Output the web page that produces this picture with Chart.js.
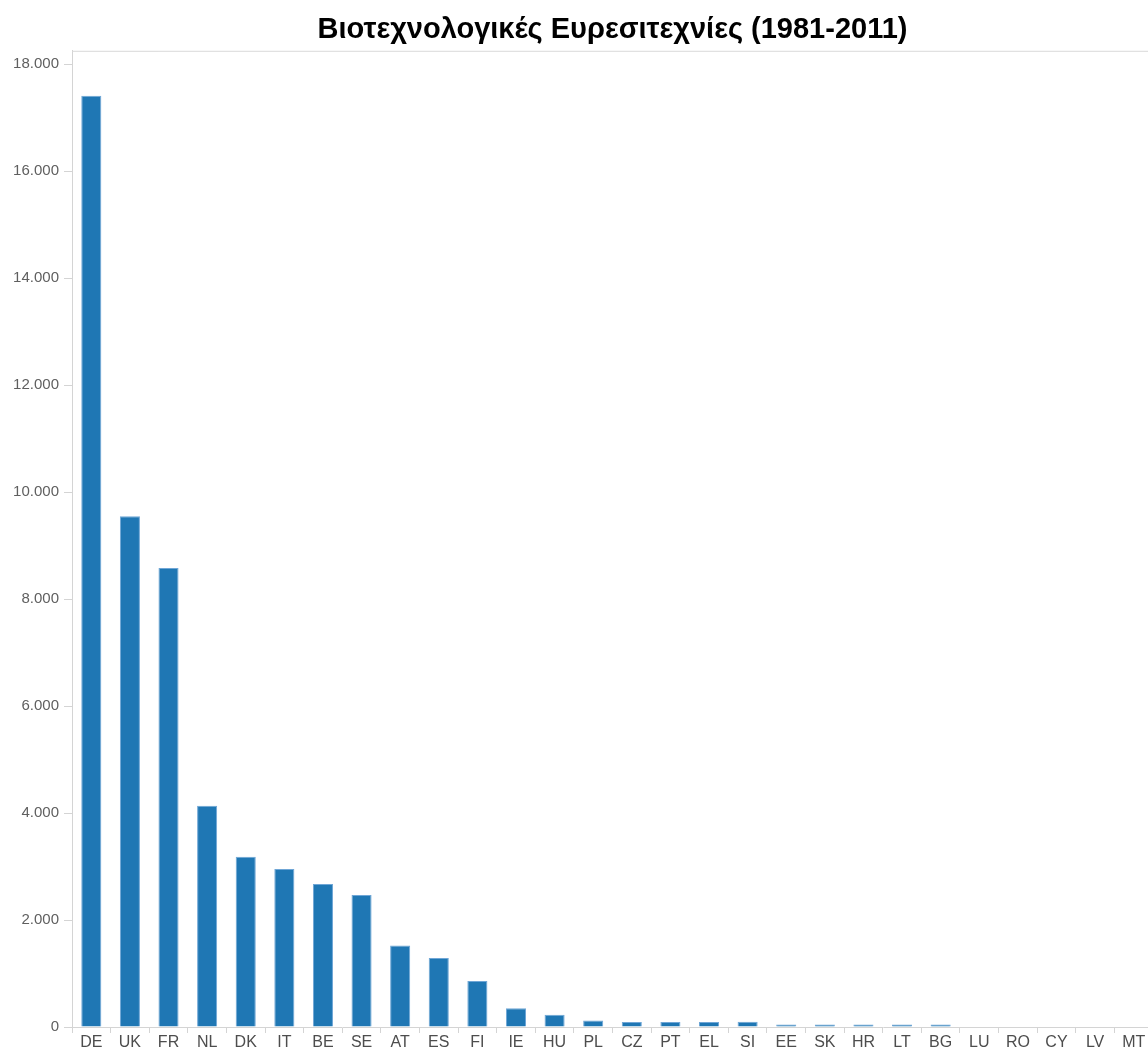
<!DOCTYPE html>
<html>
<head>
<meta charset="utf-8">
<script src="https://cdn.jsdelivr.net/npm/chart.js@4/dist/chart.umd.min.js"></script>
<style>
  html, body { margin: 0; padding: 0; background: #fff; overflow: hidden; }
  #wrap { position: absolute; left: 0; top: 0; width: 1160px; height: 1050px; }
</style>
</head>
<body>
<div id="wrap"><canvas id="patentChart"></canvas></div>
<script>
// Βιοτεχνολογικές ευρεσιτεχνίες ανά χώρα
const countries = ['DE', 'UK', 'FR', 'NL', 'DK', 'IT', 'BE', 'SE', 'AT', 'ES', 'FI', 'IE', 'HU', 'PL',
  'CZ', 'PT', 'EL', 'SI', 'EE', 'SK', 'HR', 'LT', 'BG', 'LU', 'RO', 'CY', 'LV', 'MT'];
const patents = [17410, 9550, 8580, 4135, 3185, 2955, 2675, 2470, 1525, 1290, 860, 350, 230, 120,
  95, 95, 95, 100, 45, 45, 45, 45, 45, 0, 0, 0, 0, 0];
const yTicks = [0, 2000, 4000, 6000, 8000, 10000, 12000, 14000, 16000, 18000];
const chartTitle = 'Βιοτεχνολογικές Ευρεσιτεχνίες (1981-2011)';

// 18.000 αντί για 18,000
function formatNumber(v) {
  return String(v).replace(/\B(?=(\d{3})+(?!\d))/g, '.');
}

// γραμμή στο πάνω όριο της περιοχής
const topBorder = {
  id: 'topBorder',
  afterDraw(chart) {
    const { ctx, chartArea } = chart;
    ctx.save();
    ctx.strokeStyle = '#d9d9d9';
    ctx.lineWidth = 1;
    ctx.beginPath();
    ctx.moveTo(chartArea.left, chartArea.top + 0.5);
    ctx.lineTo(chart.width, chartArea.top + 0.5);
    ctx.stroke();
    ctx.restore();
  }
};

const ctx = document.getElementById('patentChart').getContext('2d');
new Chart(ctx, {
  type: 'bar',
  data: {
    labels: countries,
    datasets: [{
      label: 'Ευρεσιτεχνίες',
      data: patents,
      backgroundColor: '#1f77b4',
      borderColor: '#6fa6d6',
      borderWidth: 1,
      barPercentage: 0.52,
      categoryPercentage: 1
    }]
  },
  options: {
    responsive: true,
    maintainAspectRatio: false,
    animation: false,
    layout: {
      padding: { left: 0, right: 7, top: 0, bottom: 0 }
    },
    plugins: {
      legend: { display: false },
      tooltip: { enabled: false },
      title: {
        display: true,
        text: chartTitle,
        fullSize: false,
        color: '#000',
        font: { family: '"Liberation Sans", Arial, sans-serif', size: 29, weight: 'bold' },
        padding: { top: 13, bottom: 3 }
      }
    },
    scales: {
      x: {
        afterFit(scale) { scale.height = 23; },
        grid: {
          display: true,
          drawOnChartArea: false,
          drawTicks: true,
          tickLength: 6,
          color: '#d4d4d4',
          offset: true
        },
        border: { display: true, color: '#d4d4d4' },
        ticks: {
          color: '#4d4d4d',
          padding: 0,
          maxRotation: 0,
          autoSkip: false,
          font: { family: '"Liberation Sans", Arial, sans-serif', size: 16 }
        }
      },
      y: {
        min: 0,
        max: 18250,
        afterFit(scale) { scale.width = 72; },
        afterBuildTicks(scale) { scale.ticks = yTicks.map(v => ({ value: v })); },
        grid: {
          display: true,
          drawOnChartArea: false,
          drawTicks: true,
          tickLength: 8,
          color: '#d4d4d4'
        },
        border: { display: true, color: '#d4d4d4' },
        ticks: {
          color: '#5f5f5f',
          padding: 5,
          includeBounds: false,
          callback: v => formatNumber(v),
          font: { family: '"Liberation Sans", Arial, sans-serif', size: 15 }
        }
      }
    }
  },
  plugins: [topBorder]
});
</script>
</body>
</html>
